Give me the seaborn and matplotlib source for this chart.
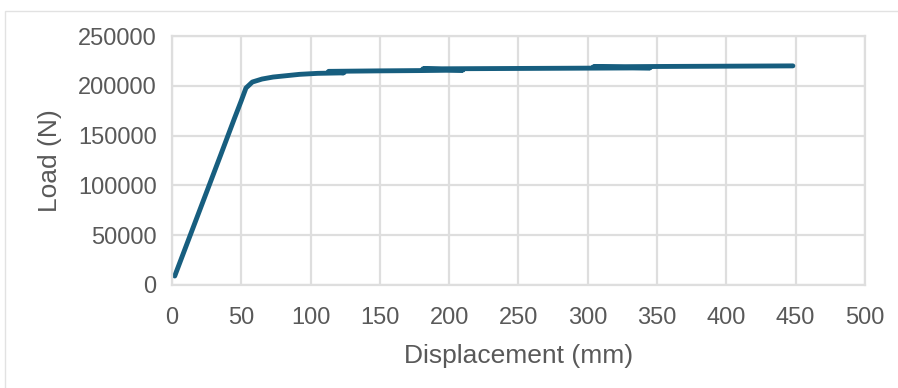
import numpy as np
import pandas as pd
import seaborn as sns
from matplotlib import pyplot as plt
from matplotlib.patches import Rectangle

# Load-displacement readings (mm, N); the test log overlaps itself in places
displacement = [2, 20, 35, 45, 50, 53.4, 58, 65, 73, 92, 105, 124,
                113, 150, 180, 210,
                181, 230, 280, 345,
                304, 350, 400, 448]
load = [9000, 75000, 130000, 167000, 185000, 197800, 203800, 206800, 208800, 211500, 212500, 213000,
        214500, 215000, 215300, 215800,
        217000, 217300, 217600, 218000,
        219000, 219400, 219700, 220000]

x_ticks = [0, 50, 100, 150, 200, 250, 300, 350, 400, 450, 500]
y_ticks = [0, 50000, 100000, 150000, 200000, 250000]

df = pd.DataFrame({'Displacement (mm)': displacement, 'Load (N)': load})

sns.set_style('whitegrid', {'grid.color': '#dedede', 'axes.edgecolor': '#dedede'})
plt.rcParams['font.family'] = ['Liberation Sans', 'DejaVu Sans']

fig = plt.figure(figsize=(8.98, 3.88), dpi=100)
ax = fig.add_axes([0.1915, 0.2655, 0.7717, 0.6417])

sns.lineplot(data=df, x='Displacement (mm)', y='Load (N)', sort=False, estimator=None,
             color='#175e7f', linewidth=3.5, ax=ax)

ax.set_xlim(0, 500)
ax.set_ylim(0, 250000)
ax.set_xticks(x_ticks)
ax.set_yticks(y_ticks)
ax.set_xticklabels([str(t) for t in x_ticks])
ax.set_yticklabels([str(t) for t in y_ticks])
ax.grid(True, linewidth=1.6)
for s in ax.spines.values():
    s.set_linewidth(1.6)
ax.tick_params(axis='both', colors='#595959', labelsize=17, length=0)
ax.tick_params(axis='x', pad=16)
ax.tick_params(axis='y', pad=11)
ax.set_xlabel('Displacement (mm)', fontsize=19, color='#595959', va='center')
ax.set_ylabel('Load (N)', fontsize=19, color='#595959', va='center')
ax.xaxis.set_label_coords(0.5, -0.285)
ax.yaxis.set_label_coords(-0.176, 0.5)

# outer chart frame
fig.patches.append(Rectangle((5 / 898, -0.1), 1.2, 1 - 11 / 388 + 0.1, transform=fig.transFigure,
                             fill=False, edgecolor='#e2e2e2', linewidth=1))

fig.savefig('out.png', dpi=100)
